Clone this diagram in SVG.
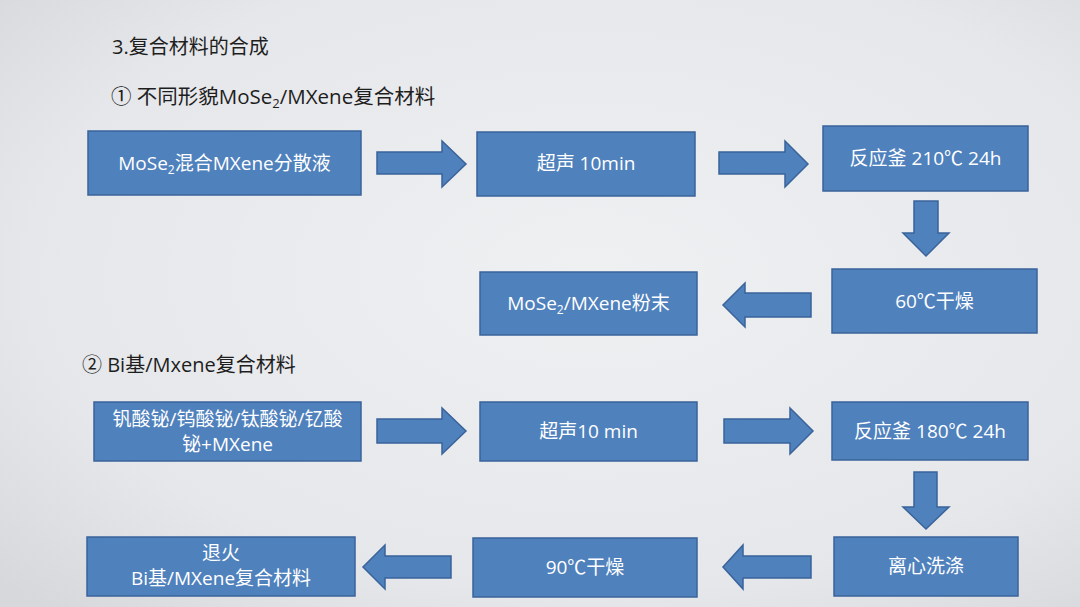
<svg xmlns="http://www.w3.org/2000/svg" width="1080" height="607" viewBox="0 0 1080 607">
  <defs>
    <radialGradient id="bg" cx="55%" cy="45%" r="75%">
      <stop offset="0" stop-color="#eff0f2"/>
      <stop offset="0.7" stop-color="#e6e7ea"/>
      <stop offset="1" stop-color="#d6d8dc"/>
    </radialGradient>
    <style>
      .box{fill:#4f81bd;stroke:#3a639a;stroke-width:1.5}
      .arr{fill:#4f81bd;stroke:#3a639a;stroke-width:1.5;stroke-linejoin:miter}
      .t{font-family:"Open Sans","Noto Sans CJK SC",sans-serif;font-size:19px;fill:#ffffff;text-anchor:middle}
      .h{font-family:"Open Sans","Noto Sans CJK SC",sans-serif;fill:#1e1e1e}
    </style>
  </defs>
  <rect x="0" y="0" width="1080" height="607" fill="url(#bg)"/>

  <g id="headings">
    <text class="h" x="112" y="54" font-size="20">3.复合材料的合成</text>
    <text class="h" x="111" y="104" font-size="20.5">① 不同形貌MoSe<tspan font-size="13" dy="4">2</tspan><tspan dy="-4">/MXene复合材料</tspan></text>
    <text class="h" x="82" y="372" font-size="20">② Bi基/Mxene复合材料</text>
  </g>

  <g id="connectors">
    <polygon class="arr" points="377,152 442,152 442,141 466,164 442,187 442,174 377,174"/>
    <polygon class="arr" points="719,152 785,152 785,141 808,164 785,187 785,174 719,174"/>
    <polygon class="arr" points="914,201 938,201 938,233 949,233 926,256 903,233 914,233"/>
    <polygon class="arr" points="811,293 745,293 745,283 723,305 745,327 745,317 811,317"/>
    <polygon class="arr" points="377,419 442,419 442,408 466,431 442,454 442,443 377,443"/>
    <polygon class="arr" points="724,419 790,419 790,408 813,431 790,454 790,443 724,443"/>
    <polygon class="arr" points="914,472 937,472 937,507 949,507 926,529 903,507 914,507"/>
    <polygon class="arr" points="811,556 743,556 743,545 723,567 743,589 743,578 811,578"/>
    <polygon class="arr" points="451,556 385,556 385,545 363,567 385,589 385,578 451,578"/>
  </g>

  <g id="n1">
    <rect class="box" x="88" y="131" width="273" height="64"/>
    <text class="t" x="224.5" y="170">MoSe<tspan font-size="12" dy="4">2</tspan><tspan dy="-4">混合MXene分散液</tspan></text>
  </g>
  <g id="n2">
    <rect class="box" x="477" y="132" width="218" height="64"/>
    <text class="t" x="586" y="170">超声 10min</text>
  </g>
  <g id="n3">
    <rect class="box" x="823" y="126" width="205" height="65"/>
    <text class="t" x="925.5" y="165">反应釜 210℃ 24h</text>
  </g>
  <g id="n4">
    <rect class="box" x="832" y="269" width="205" height="64"/>
    <text class="t" x="934.5" y="308">60℃干燥</text>
  </g>
  <g id="n5">
    <rect class="box" x="480" y="272" width="217" height="63"/>
    <text class="t" x="588.5" y="310">MoSe<tspan font-size="12" dy="4">2</tspan><tspan dy="-4">/MXene粉末</tspan></text>
  </g>

  <g id="m1">
    <rect class="box" x="94" y="402" width="267" height="59"/>
    <text class="t" x="227.5" y="426" font-size="18">钒酸铋/钨酸铋/钛酸铋/钇酸</text>
    <text class="t" x="227.5" y="451" font-size="18">铋+MXene</text>
  </g>
  <g id="m2">
    <rect class="box" x="480" y="402" width="217" height="59"/>
    <text class="t" x="588.5" y="438">超声10 min</text>
  </g>
  <g id="m3">
    <rect class="box" x="832" y="402" width="196" height="58"/>
    <text class="t" x="930" y="438">反应釜 180℃ 24h</text>
  </g>
  <g id="m4">
    <rect class="box" x="834" y="537" width="184" height="59"/>
    <text class="t" x="926" y="573">离心洗涤</text>
  </g>
  <g id="m5">
    <rect class="box" x="473" y="538" width="224" height="59"/>
    <text class="t" x="585" y="574">90℃干燥</text>
  </g>
  <g id="m6">
    <rect class="box" x="87" y="537" width="268" height="59"/>
    <text class="t" x="221" y="560">退火</text>
    <text class="t" x="221" y="585">Bi基/MXene复合材料</text>
  </g>
</svg>
